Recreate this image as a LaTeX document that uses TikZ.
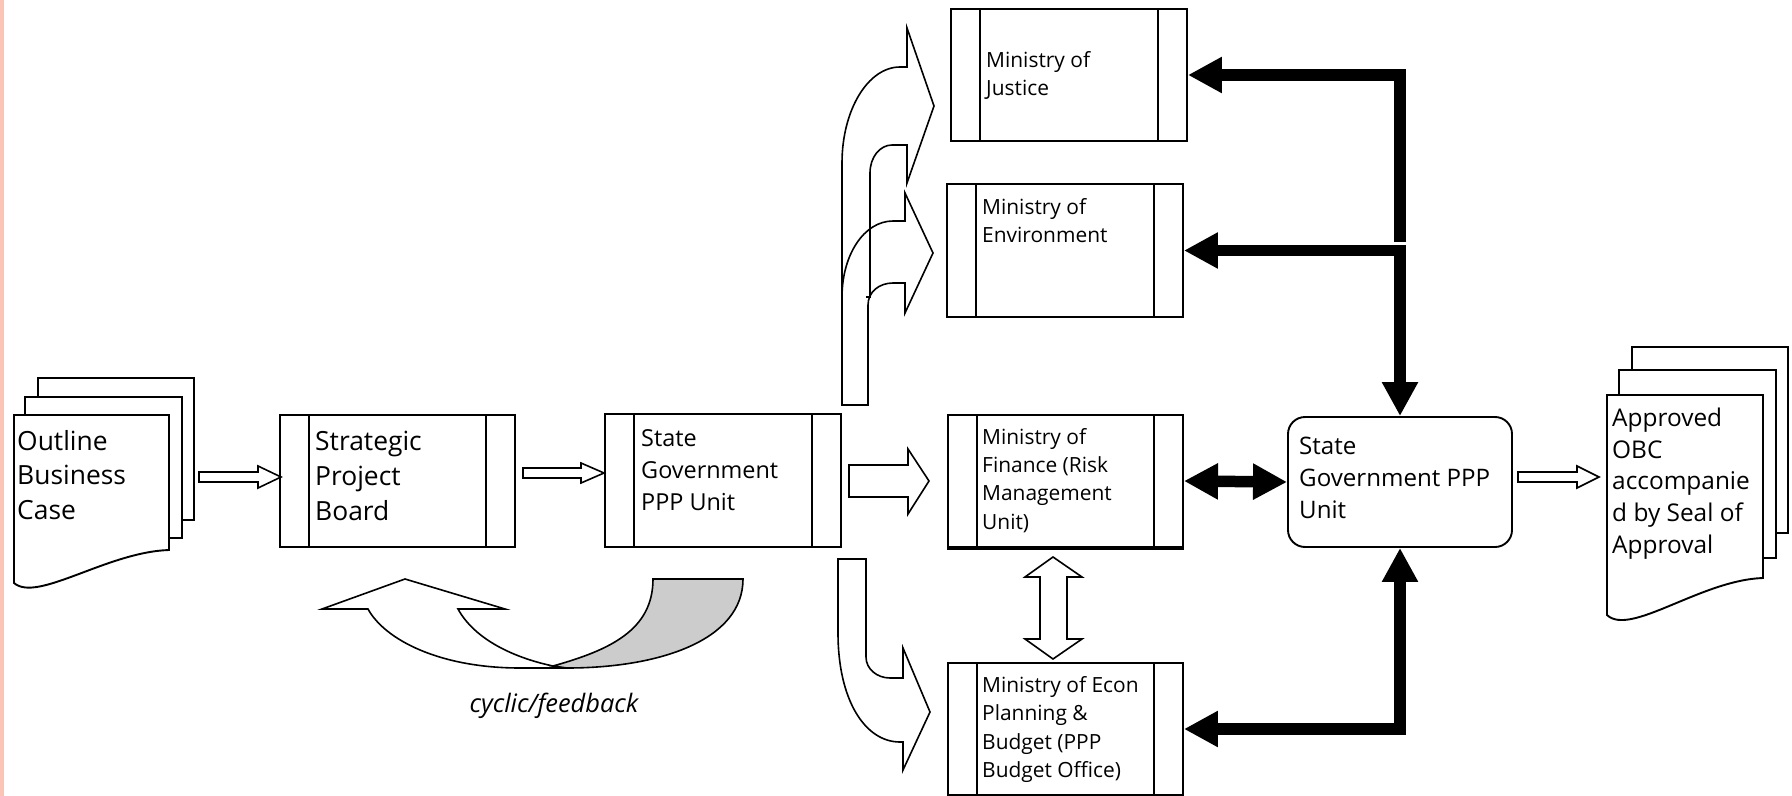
\documentclass[tikz,border=0pt]{standalone}
\usepackage{fontspec}
\setmainfont{Open Sans}
\usetikzlibrary{arrows.meta}
\definecolor{edgepink}{RGB}{251,196,182}
\definecolor{shade}{RGB}{204,204,204}

\begin{document}
\begin{tikzpicture}[x=1bp, y=-1bp, line join=miter,
  outline/.style={draw=black, line width=1.9bp, fill=white},
  proc/.style={draw=black, line width=1.9bp, fill=white, rectangle, inner sep=0pt},
  divider/.style={draw=black, line width=1.9bp},
  hollow/.style={draw=black, line width=1.6bp, fill=white},
  lbl/.style={anchor=north west, inner sep=0pt, align=left},
  big/.style={font=\fontsize{26.5}{35}\selectfont},
  mid/.style={font=\fontsize{23.5}{32}\selectfont},
  small/.style={font=\fontsize{21}{28.5}\selectfont},
  bold link/.style={draw=black, line width=11.5bp,
    >={Triangle[length=34bp, width=34bp]}}
]
% canvas
\fill[white] (0,0) rectangle (1792,796);
\fill[edgepink] (0,0) rectangle (4,796);
\useasboundingbox (0,0) rectangle (1792,796);

% input document stack
\draw[outline] (38,378) rectangle (194,520);
\draw[outline] (25,397) rectangle (182,538);
\draw[outline] (14,415) -- (169,415) -- (169,550)
  .. controls (107,552) and (37,603) .. (14,583) -- cycle;

% output document stack
\draw[outline] (1632,347) rectangle (1788,533);
\draw[outline] (1619,370) rectangle (1776,558);
\draw[outline] (1607,395) -- (1763,395) -- (1763,578)
  .. controls (1701,580) and (1630,637) .. (1607,615) -- cycle;

% process boxes
\node[proc, minimum width=235bp, minimum height=132bp] (sp)  at (397.5,481) {};
\node[proc, minimum width=236bp, minimum height=133bp] (sgl) at (723,480.5) {};
\node[proc, minimum width=236bp, minimum height=132bp] (jus) at (1069,75) {};
\node[proc, minimum width=236bp, minimum height=133bp] (env) at (1065,250.5) {};
\node[proc, minimum width=235bp, minimum height=132bp] (fin) at (1065.5,481) {};
\node[proc, minimum width=235bp, minimum height=132bp] (eco) at (1065.5,729) {};
\node[proc, rounded corners=17bp, minimum width=224bp, minimum height=130bp] (sgr) at (1400,482) {};

\foreach \n in {sp,sgl,jus,env,fin,eco}{
  \draw[divider] ([xshift=30bp]\n.north west) -- ([xshift=30bp]\n.south west);
  \draw[divider] ([xshift=-30bp]\n.north east) -- ([xshift=-30bp]\n.south east);
}
\draw[line width=4bp] (fin.south west) -- (fin.south east);

% thin hollow arrows
\draw[hollow] (199,472) -- (258,472) -- (258,466) -- (281,477) -- (258,488) -- (258,482) -- (199,482) -- cycle;
\draw[hollow] (523,468) -- (581,468) -- (581,463) -- (604,473) -- (581,483) -- (581,478) -- (523,478) -- cycle;
\draw[hollow] (1518,472) -- (1577,472) -- (1577,466) -- (1599,477) -- (1577,488) -- (1577,482) -- (1518,482) -- cycle;

% block arrow towards finance
\draw[hollow] (849,465) -- (908,465) -- (908,449) -- (929,481) -- (908,514) -- (908,497) -- (849,497) -- cycle;

% two-way hollow arrow between finance and planning
\draw[hollow] (1053,557) -- (1082,577) -- (1067,577) -- (1067,639) -- (1082,639) -- (1053,659)
  -- (1025,639) -- (1040,639) -- (1040,577) -- (1025,577) -- cycle;

% curved arrows rising to justice and environment
\draw[line width=1.6bp] (842,405) -- (842,297) .. controls (842,255) and (864,221) .. (893,221)
  -- (905,221) -- (905,193) -- (933,253) -- (905,313) -- (905,283) -- (893,283)
  .. controls (879,283) and (868,292) .. (868,305) -- (868,405) -- cycle;
\draw[line width=1.6bp] (842,297) -- (842,163) .. controls (842,110) and (868,67) .. (900,67)
  -- (907,67) -- (907,28) -- (934,106) -- (907,183) -- (907,145) -- (892,145)
  .. controls (880,145) and (870,157) .. (870,173) -- (870,297) -- (866,297);

% curved arrow falling to planning
\draw[hollow] (838,559) -- (866,559) -- (866,657) .. controls (866,669) and (877,678) .. (890,678)
  -- (903,678) -- (903,648) -- (930,712) -- (903,770) -- (903,742) -- (900,742)
  .. controls (865,742) and (838,700) .. (838,633) -- cycle;

% feedback loop
\draw[hollow] (567,668) -- (520,668) .. controls (440,668) and (385,640) .. (368,609)
  -- (322,609) -- (405,579) -- (505,609) -- (458,609)
  .. controls (475,640) and (515,658) .. (553,666) -- cycle;
\draw[line width=1.6bp, fill=shade] (653,579) -- (743,579)
  .. controls (743,640) and (660,668) .. (567,668) -- (553,666)
  .. controls (610,650) and (653,630) .. (653,579) -- cycle;

% heavy links around the state unit
\coordinate (jct) at (1400,242);
\draw[bold link, ->] (jct) |- (jus.east);
\draw[bold link, <->] (env.east) -| (sgr.north);
\draw[bold link, <->] (fin.east) -- (sgr.west);
\draw[bold link, <->] (eco.east) -| (sgr.south);

% labels
\node[lbl, big] (obct) at (17,425.5) {\strut Outline\\Business\\Case};
\node[lbl, big] (spt) at (315,426) {\strut Strategic\\Project\\Board};
\node[lbl, mid] (sglt) at (641,424) {\strut State\\Government\\PPP Unit};
\node[lbl, small] (jut) at (986,47.5) {\strut Ministry of\\Justice};
\node[lbl, small] (ent) at (982,194) {\strut Ministry of\\Environment};
\node[lbl, small] (fit) at (982,424) {\strut Ministry of\\Finance (Risk\\Management\\Unit)};
\node[lbl, small] (ect) at (982,672.5) {\strut Ministry of Econ\\Planning \&\\Budget (PPP\\Budget Office)};
\node[lbl, font=\fontsize{24.2}{32}\selectfont] (sgrt) at (1299,432) {\strut State\\Government PPP\\Unit};
\node[lbl, font=\fontsize{24.5}{32}\selectfont] (apt) at (1612,403.6) {\strut Approved\\OBC\\accompanie\\d by Seal of\\Approval};
\node[font=\fontsize{25.5}{30}\selectfont\itshape] (cyc) at (554,706) {cyclic/feedback};
\end{tikzpicture}
\end{document}
